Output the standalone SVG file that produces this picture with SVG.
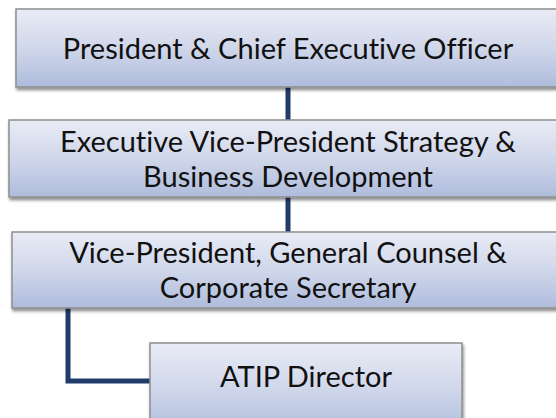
<svg xmlns="http://www.w3.org/2000/svg" width="556" height="418" viewBox="0 0 556 418">
<defs>
<linearGradient id="g" x1="0" y1="0" x2="0" y2="1">
<stop offset="0" stop-color="#E9ECF6"/>
<stop offset="0.5" stop-color="#D0D7EA"/>
<stop offset="1" stop-color="#AEBCDC"/>
</linearGradient>
<filter id="sh" x="-5%" y="-5%" width="110%" height="130%">
<feDropShadow dx="1" dy="2.5" stdDeviation="1.5" flood-color="#000" flood-opacity="0.45"/>
</filter>
<style>
.box{fill:url(#g);stroke:#8E8E8E;stroke-width:1.5;filter:url(#sh)}
.t{font-family:Lato,"Liberation Sans",sans-serif;font-size:29px;fill:#111;text-anchor:middle;font-variant-ligatures:none;font-feature-settings:"liga" 0,"clig" 0}
.c{fill:none;stroke:#1F3C6A;stroke-width:5}
</style>
</defs>
<rect width="556" height="418" fill="#fff"/>
<g id="connectors">
<line class="c" x1="288" y1="86" x2="288" y2="121"/>
<line class="c" x1="288" y1="196" x2="288" y2="233"/>
<polyline class="c" points="68,307 68,381 151,381"/>
</g>
<g id="n1">
<rect class="box" x="16" y="9" width="560" height="78"/>
<text class="t" x="288" y="59">President &amp; Chief Executive Officer</text>
</g>
<g id="n2">
<rect class="box" x="9" y="120" width="570" height="77"/>
<text class="t" x="288" y="152">Executive Vice-President Strategy &amp;</text>
<text class="t" x="288" y="187">Business Development</text>
</g>
<g id="n3">
<rect class="box" x="12" y="232" width="570" height="76"/>
<text class="t" x="288" y="263">Vice-President, General Counsel &amp;</text>
<text class="t" x="288" y="298">Corporate Secretary</text>
</g>
<g id="n4">
<rect class="box" x="150" y="343" width="312" height="90"/>
<text class="t" x="306" y="387">ATIP Director</text>
</g>
</svg>
